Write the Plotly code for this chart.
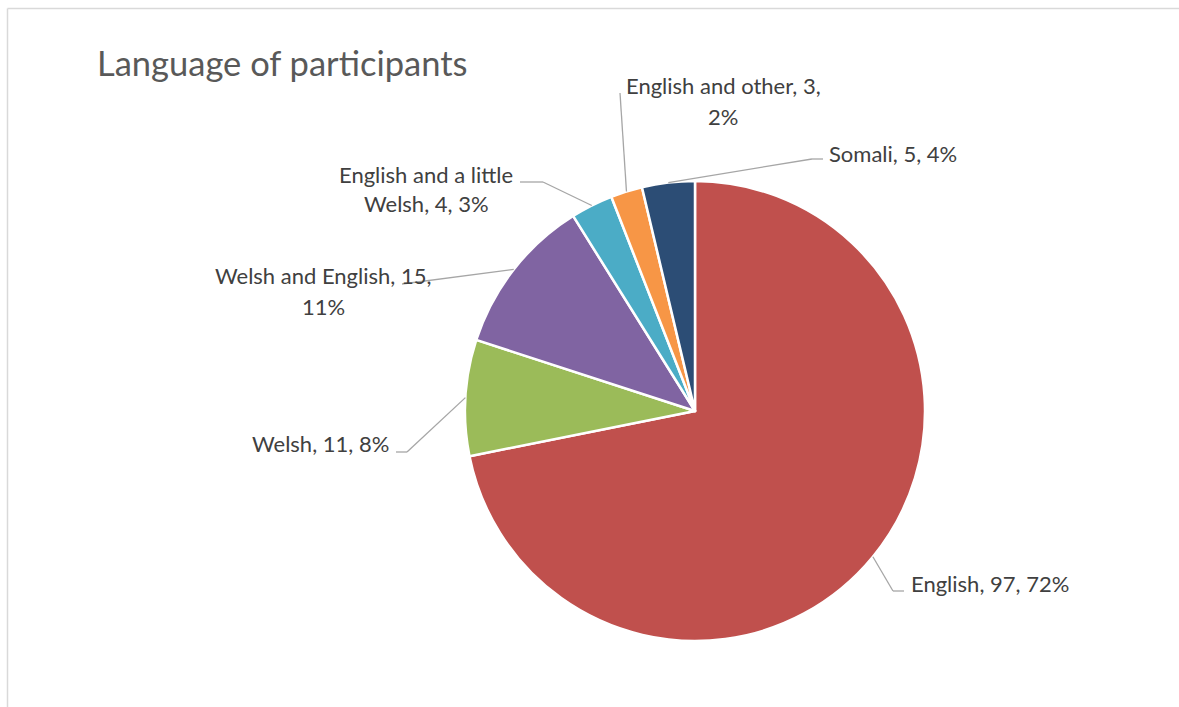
import math
import plotly.graph_objects as go

# ---- data ----
categories = ["English", "Welsh", "Welsh and English",
              "English and a little Welsh", "English and other", "Somali"]
counts = [97, 11, 15, 4, 3, 5]
colors = ["#C0504D", "#9BBB59", "#8064A2", "#4BACC6", "#F79646", "#2C4D75"]
title_text = "Language of participants"

# ---- layout (pixels) ----
W, H = 1179, 707
CX, CY, R = 695, 411, 230
LABEL_FONT = "Lato"
LABEL_SIZE = 22
LINE_GAP = 30

label_layout = {
    "English": dict(x=909, y=583, xanchor="left", via=[(893, 591), (904, 591)]),
    "Welsh": dict(x=391, y=443, xanchor="right", via=[(407, 452), (396, 452)]),
    "Welsh and English": dict(x=323, y=276, xanchor="center", via=[(402, 284)]),
    "English and a little Welsh": dict(x=426, y=174, xanchor="center", via=[(543, 182), (520, 182)]),
    "English and other": dict(x=723, y=86, xanchor="center", via=[(620, 93)]),
    "Somali": dict(x=827, y=154, xanchor="left", via=[(812, 159), (823, 159)]),
}


def px(x):
    return x / W


def py(y):
    return 1 - y / H


total = sum(counts)

fig = go.Figure(go.Pie(
    labels=categories, values=counts, sort=False, direction="clockwise",
    rotation=0, marker=dict(colors=colors, line=dict(color="white", width=2.5)),
    textinfo="none", hoverinfo="label+value+percent", showlegend=False,
    domain=dict(x=[px(CX - R), px(CX + R)], y=[py(CY + R), py(CY - R)]),
))

annotations = []
shapes = []

# title
annotations.append(dict(text=title_text, x=px(95), y=py(62), xref="paper", yref="paper",
                        xanchor="left", yanchor="middle", showarrow=False,
                        font=dict(family=LABEL_FONT, size=34.5, color="#595959")))

cum = 0
for cat, v in zip(categories, counts):
    frac = v / total
    mid = (cum + frac / 2) * 2 * math.pi
    cum += frac
    ax = CX + R * math.sin(mid)
    ay = CY - R * math.cos(mid)
    lay = label_layout[cat]
    pct = round(v / total * 100)
    words = f"{cat}, {v}, {pct}%".split(" ")
    lines = [" ".join(words[:4]), " ".join(words[4:])] if len(words) > 4 else [" ".join(words)]
    for i, ln in enumerate(lines):
        annotations.append(dict(text=ln, x=px(lay["x"]), y=py(lay["y"] + i * LINE_GAP),
                                xref="paper", yref="paper", xanchor=lay["xanchor"],
                                yanchor="middle", showarrow=False,
                                font=dict(family=LABEL_FONT, size=LABEL_SIZE, color="#404040")))
    pts = [(ax, ay)] + lay["via"]
    for (x0, y0), (x1, y1) in zip(pts[:-1], pts[1:]):
        shapes.append(dict(type="line", xref="paper", yref="paper",
                           x0=px(x0), y0=py(y0), x1=px(x1), y1=py(y1),
                           line=dict(color="#A6A6A6", width=1.3)))

# chart frame
shapes.append(dict(type="line", xref="paper", yref="paper", x0=px(7.5), y0=py(8.5),
                   x1=px(7.5), y1=0, line=dict(color="#D9D9D9", width=1.5)))
shapes.append(dict(type="line", xref="paper", yref="paper", x0=px(7.5), y0=py(8.5),
                   x1=1, y1=py(8.5), line=dict(color="#D9D9D9", width=1.5)))

fig.update_layout(width=W, height=H, margin=dict(l=0, r=0, t=0, b=0),
                  paper_bgcolor="white", plot_bgcolor="white",
                  annotations=annotations, shapes=shapes)

fig.write_html("out.html")
